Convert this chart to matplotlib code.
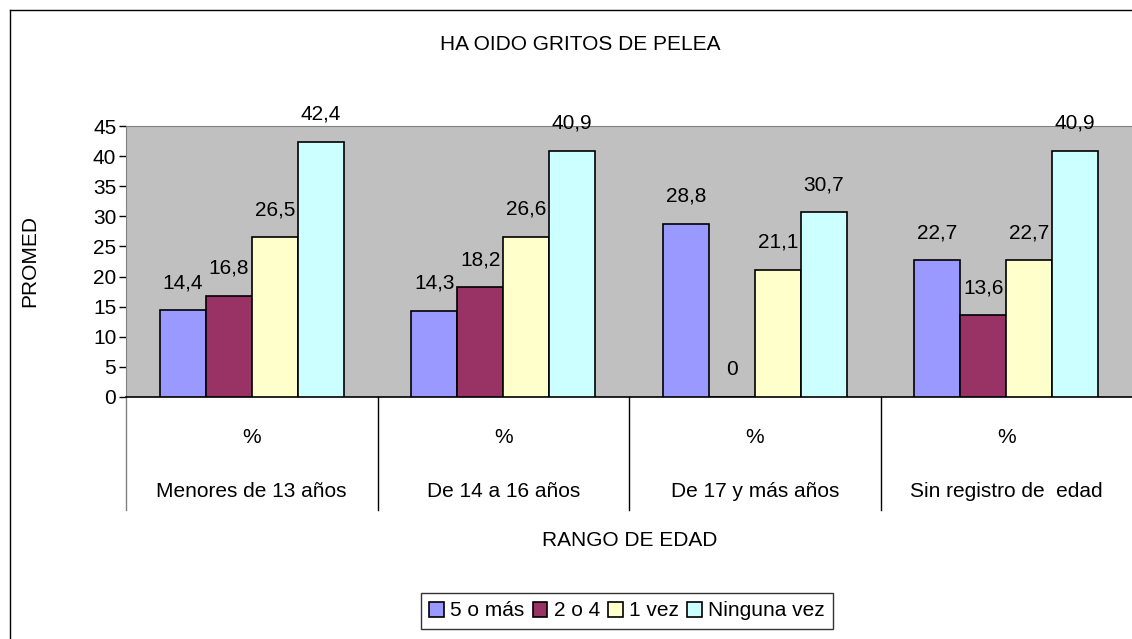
import numpy as np
import matplotlib
matplotlib.use("Agg")
import matplotlib.pyplot as plt
from matplotlib.lines import Line2D
import matplotlib.transforms as mtransforms

plt.rcParams['font.family'] = ['Liberation Sans', 'DejaVu Sans']

# datos
categorias = ["Menores de 13 años", "De 14 a 16 años", "De 17 y más años", "Sin registro de  edad"]
series = ["5 o más", "2 o 4", "1 vez", "Ninguna vez"]
v_5omas = [14.4, 14.3, 28.8, 22.7]
v_2o4 = [16.8, 18.2, 0, 13.6]
v_1vez = [26.5, 26.6, 21.1, 22.7]
v_ninguna = [42.4, 40.9, 30.7, 40.9]
colores = ["#9999FF", "#993366", "#FFFFCC", "#CCFFFF"]

valores = [v_5omas, v_2o4, v_1vez, v_ninguna]
fs = 15

fig = plt.figure(figsize=(11.32, 6.39), dpi=100)
ax = fig.add_axes([126/1132, 1-397/639, (1132-126)/1132, (397-126)/639])
ax.set_facecolor("#C0C0C0")

x = np.arange(len(categorias))
ancho = 0.183
desp = [-1.5*ancho, -0.5*ancho, 0.5*ancho, 1.5*ancho]
for i in range(4):
    ax.bar(x + desp[i], valores[i], ancho, color=colores[i],
           edgecolor="black", linewidth=1.2, label=series[i], zorder=3)
    for xb, v in zip(x + desp[i], valores[i]):
        ax.annotate(str(v).replace(".", ",") if v != 0 else "0", (xb, v),
                    xytext=(0, 13), textcoords="offset points",
                    ha="center", va="bottom", fontsize=fs)

ax.set_xlim(-0.5, 3.5)
ax.set_ylim(0, 45)
ax.set_yticks(range(0, 46, 5))
ax.tick_params(axis="y", direction="out", length=5, width=1, labelsize=fs, pad=2)
ax.set_xticks([])
ax.spines["top"].set_color("#808080")
ax.spines["left"].set_color("#808080")
ax.spines["right"].set_visible(False)
ax.spines["bottom"].set_color("black")
ax.spines["bottom"].set_linewidth(1.2)

# etiquetas del eje de categorias
trans = mtransforms.blended_transform_factory(ax.transData, ax.transAxes)
for k in range(len(categorias)):
    ax.text(x[k], -0.148, "%", transform=trans, ha="center", va="center", fontsize=fs)
    ax.text(x[k], -0.35, categorias[k], transform=trans, ha="center", va="center", fontsize=fs)
for k in range(len(categorias)):
    ax.plot([k - 0.5, k - 0.5], [0, -0.417], transform=trans, color="#808080" if k == 0 else "black",
            linewidth=1, clip_on=False)

fig.text(580/1132, 1-45/639, "HA OIDO GRITOS DE PELEA", ha="center", va="center", fontsize=fs)
fig.text(630/1132, 1-540/639, "RANGO DE EDAD", ha="center", va="center", fontsize=fs)
fig.text(30/1132, 1-261/639, "PROMED", ha="center", va="center", rotation=90, fontsize=fs)

leg = fig.legend(loc="center", bbox_to_anchor=(627/1132, 1-611/639), ncol=4,
                 fontsize=fs, frameon=True, fancybox=False, edgecolor="black",
                 handlelength=0.7, handleheight=0.7, handletextpad=0.3,
                 columnspacing=0.4, borderpad=0.4)
leg.get_frame().set_linewidth(1)

# borde exterior
fig.add_artist(Line2D([10/1132, 10/1132], [0, 1-10/639], color="black", linewidth=1))
fig.add_artist(Line2D([10/1132, 1], [1-10/639, 1-10/639], color="black", linewidth=1))

fig.savefig("out.png", dpi=100)
